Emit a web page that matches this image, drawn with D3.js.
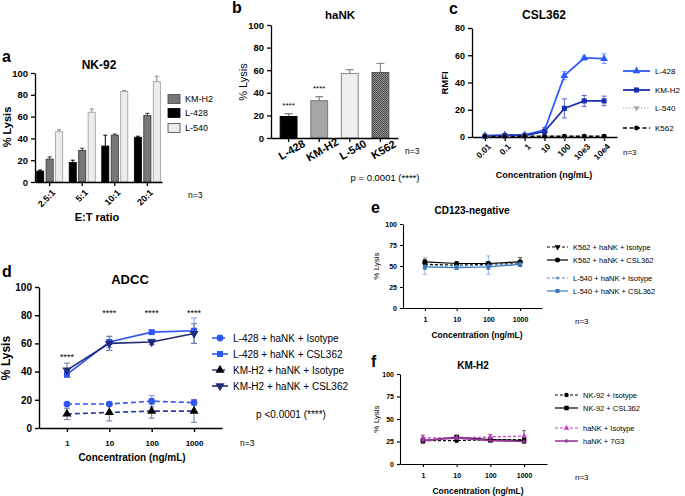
<!DOCTYPE html>
<html><head><meta charset="utf-8">
<script src="https://cdn.jsdelivr.net/npm/d3@7"></script>
<style>body{margin:0;background:#fff}svg{display:block}</style>
</head><body>
<script>
// ---------- DATA ----------
// Panel a: NK-92
const aRatios = ["2.5:1", "5:1", "10:1", "20:1"];
const aSeries = ["L-428", "KM-H2", "L-540"];
const aL428 = [10, 18, 33, 41];
const aL428Err = [1, 2, 10, 1];
const aKMH2 = [21, 29, 43, 61];
const aKMH2Err = [2, 2, 1, 2];
const aL540 = [46, 64, 83, 92];
const aL540Err = [2, 3, 1, 5];
const aLegend = ["KM-H2", "L-428", "L-540"];
const lysisTicks = [0, 20, 40, 60, 80, 100];

// Panel b: haNK
const bCells = ["L-428", "KM-H2", "L-540", "K562"];
const bLysis = [19, 33, 57, 58];
const bErr = [2.5, 3.5, 3.5, 8];
const bStars = ["****", "****", "", ""];

// Panel c: CSL362 binding
const cConc = ["0.01", "0.1", "1", "10", "100", "10e3", "10e4"];
const cL428 = [1, 1.5, 1.5, 5, 45, 58, 57.5];
const cL428Err = [0.5, 0.5, 0.5, 2, 3, 1.5, 3.5];
const cKMH2 = [0.5, 1, 1, 4, 21, 26.5, 26.5];
const cKMH2Err = [0.5, 0.5, 0.5, 1, 7, 4, 3.5];
const cL540 = [0.5, 0.5, 0.5, 0.6, 0.6, 0.6, 0.6];
const cL540Err = [0.3, 0.3, 0.3, 0.3, 0.3, 0.3, 0.3];
const cK562 = [0.4, 0.4, 0.5, 0.5, 0.6, 0.6, 0.6];
const cK562Err = [0.3, 0.3, 0.3, 0.3, 0.3, 0.3, 0.3];
const rmfiTicks = [0, 20, 40, 60, 80];
const cLabels = ["L-428", "KM-H2", "L-540", "K562"];

// Panel d: ADCC
const dConc = ["1", "10", "100", "1000"];
const dL428Iso = [17, 17, 19, 18];
const dL428IsoErr = [1, 1, 4, 2];
const dL428CSL = [38, 61, 68, 69];
const dL428CSLErr = [2, 4, 1, 9];
const dKMH2Iso = [10, 11, 12, 12];
const dKMH2IsoErr = [4, 6, 5, 8];
const dKMH2CSL = [41, 60, 61, 67];
const dKMH2CSLErr = [5, 5, 2, 7];
const dStars = ["****", "****", "****", "****"];
const dStarLevel = [52, 83, 83, 83];
const dLabels = ["L-428 + haNK + Isotype", "L-428 + haNK + CSL362", "KM-H2 + haNK + Isotype", "KM-H2 + haNK + CSL362"];

// Panel e: CD123-negative
const eConc = ["1", "10", "100", "1000"];
const eK562Iso = [52, 51, 52, 53];
const eK562IsoErr = [2, 2, 3, 3];
const eK562CSL = [55, 53, 53, 55];
const eK562CSLErr = [3, 2, 2, 5];
const eL540Iso = [50, 50, 51, 53];
const eL540IsoErr = [10, 2, 11, 2];
const eL540CSL = [49, 48, 49, 52];
const eL540CSLErr = [3, 2, 3, 2];
const eLabels = ["K562 + haNK + Isotype", "K562 + haNK + CSL362", "L-540 + haNK + Isotype", "L-540 + haNK + CSL362"];
const quarterTicks = [0, 25, 50, 75, 100];

// Panel f: KM-H2
const fConc = ["1", "10", "100", "1000"];
const fNK92Iso = [26, 26, 27, 27];
const fNK92IsoErr = [2, 2, 2, 2];
const fNK92CSL = [26, 30, 27, 26];
const fNK92CSLErr = [3, 2, 3, 3];
const fHaNKIso = [29, 29, 30, 31];
const fHaNKIsoErr = [3, 2, 3, 6];
const fHaNK7G3 = [26, 29, 26, 25];
const fHaNK7G3Err = [3, 2, 2, 2];
const fLabels = ["NK-92 + Isotype", "NK-92 + CSL362", "haNK + Isotype", "haNK + 7G3"];

// ---------- HELPERS ----------
const FONT = "'Liberation Sans', Arial, Helvetica, sans-serif";
const svg = d3.select("body").append("svg").attr("width", 685).attr("height", 496);
svg.append("rect").attr("width", 685).attr("height", 496).attr("fill", "#fff");

function txt(x, y, s, o = {}) {
  const t = svg.append("text").attr("x", x).attr("y", y).text(s)
    .attr("font-family", FONT).attr("font-size", o.size || 10)
    .attr("font-weight", o.weight || "normal")
    .attr("text-anchor", o.anchor || "start").attr("fill", o.fill || "#000");
  if (o.rotate) t.attr("transform", `rotate(${o.rotate},${x},${y})`);
  return t;
}
function styleAxis(g, size, weight, w) {
  g.select(".domain").attr("stroke", "#000").attr("stroke-width", w || 1.3);
  g.selectAll(".tick line").attr("stroke", "#000").attr("stroke-width", w || 1.3);
  g.selectAll("text").attr("font-family", FONT).attr("font-size", size)
    .attr("font-weight", weight).attr("fill", "#000");
}
function marker(g, type, x, y, size, color) {
  const sym = {circle: d3.symbolCircle, square: d3.symbolSquare, tri: d3.symbolTriangle, tridown: d3.symbolTriangle, plus: d3.symbolCross}[type];
  g.append("path").attr("d", d3.symbol().type(sym).size(size)())
    .attr("transform", `translate(${x},${y})` + (type === "tridown" ? " rotate(180)" : ""))
    .attr("fill", color);
}
// vertical error bar from yLow to yHigh with caps (cap at low end optional)
function errBar(g, x, yLow, yHigh, cap, color, w, lowCap) {
  g.append("line").attr("x1", x).attr("x2", x).attr("y1", yLow).attr("y2", yHigh)
    .attr("stroke", color).attr("stroke-width", w);
  g.append("line").attr("x1", x - cap / 2).attr("x2", x + cap / 2).attr("y1", yHigh).attr("y2", yHigh)
    .attr("stroke", color).attr("stroke-width", w);
  if (lowCap) g.append("line").attr("x1", x - cap / 2).attr("x2", x + cap / 2).attr("y1", yLow).attr("y2", yLow)
    .attr("stroke", color).attr("stroke-width", w);
}

function linePanel(o) {
  const x = d3.scalePoint().domain(o.cats).range([o.x0, o.x1]).padding(o.pad);
  const y = d3.scaleLinear().domain(o.yDomain).range([o.yBot, o.yTop]);
  const gy = svg.append("g").attr("transform", `translate(${o.x0},0)`)
    .call(d3.axisLeft(y).tickValues(o.yTicks).tickSize(o.tick).tickPadding(o.tickPad).tickSizeOuter(0));
  styleAxis(gy, o.yFont, "bold", o.axisW);
  const gx = svg.append("g").attr("transform", `translate(0,${o.yBot})`)
    .call(d3.axisBottom(x).tickSize(o.tick).tickPadding(o.xTickPad).tickSizeOuter(0));
  styleAxis(gx, o.xFont, "bold", o.axisW);
  if (o.rotX) {
    gx.selectAll(".tick text").attr("x", 0).attr("y", 0).attr("dy", "0.35em")
      .attr("text-anchor", "end").attr("transform", `translate(${o.rotDx},${o.rotDy}) rotate(-45)`);
  }
  const g = svg.append("g");
  o.series.forEach(s => {
    s.vals.forEach((v, i) => {
      const cx = x(o.cats[i]);
      errBar(g, cx, y(Math.max(0, v - s.errs[i])), y(v + s.errs[i]), o.cap, s.errColor, o.errW, true);
    });
  });
  o.series.forEach(s => {
    const line = d3.line().x((d, i) => x(o.cats[i])).y(d => y(d));
    g.append("path").attr("d", line(s.vals)).attr("fill", "none").attr("stroke", s.color)
      .attr("stroke-width", s.width || o.lineW).attr("stroke-dasharray", s.dash || null);
  });
  o.series.forEach(s => {
    s.vals.forEach((v, i) => marker(g, s.marker, x(o.cats[i]), y(v), s.size, s.markerColor || s.color));
  });
  return {x, y};
}
function lineLegend(rows, lx0, lx1, tx, size, lw) {
  const g = svg.append("g");
  rows.forEach(r => {
    g.append("line").attr("x1", lx0).attr("x2", lx1).attr("y1", r.y).attr("y2", r.y)
      .attr("stroke", r.color).attr("stroke-width", r.width || lw).attr("stroke-dasharray", r.dash || null);
    marker(g, r.marker, (lx0 + lx1) / 2, r.y, r.size, r.markerColor || r.color);
    txt(tx, r.y + size * 0.36, r.label, {size: size});
  });
}

// ---------- PANEL A ----------
(function () {
  const x = d3.scaleBand().domain(aRatios).range([35, 162]).paddingInner(0.2).paddingOuter(0.05);
  const y = d3.scaleLinear().domain([0, 100]).range([182, 73]);
  const sub = d3.scaleBand().domain(aSeries).range([0, x.bandwidth()]).paddingInner(0.25);
  const data = {"L-428": [aL428, aL428Err], "KM-H2": [aKMH2, aKMH2Err], "L-540": [aL540, aL540Err]};
  const sty = {"L-428": {fill: "#000", stroke: "#000", err: "#000"},
               "KM-H2": {fill: "#777", stroke: "#333", err: "#333"},
               "L-540": {fill: "#ececec", stroke: "#999", err: "#888"}};
  const g = svg.append("g");
  aSeries.forEach(s => {
    const [vals, errs] = data[s];
    vals.forEach((v, i) => {
      const bx = x(aRatios[i]) + sub(s);
      errBar(g, bx + sub.bandwidth() / 2, y(v), y(v + errs[i]), 4, sty[s].err, 1, false);
      g.append("rect").attr("x", bx).attr("y", y(v)).attr("width", sub.bandwidth())
        .attr("height", y(0) - y(v)).attr("fill", sty[s].fill).attr("stroke", sty[s].stroke).attr("stroke-width", 0.8);
    });
  });
  const gy = svg.append("g").attr("transform", "translate(35,0)")
    .call(d3.axisLeft(y).tickValues(lysisTicks).tickSize(4).tickPadding(3).tickSizeOuter(0));
  styleAxis(gy, 9.5, "bold");
  const gx = svg.append("g").attr("transform", "translate(0,182)")
    .call(d3.axisBottom(x).tickSize(4).tickSizeOuter(0));
  styleAxis(gx, 9, "bold");
  gx.selectAll(".tick text").attr("x", 0).attr("y", 0).attr("dy", "0.35em")
    .attr("text-anchor", "end").attr("transform", "translate(4,9) rotate(-45)");
  aLegend.forEach((s, i) => {
    const cy = [99, 113, 128][i];
    svg.append("rect").attr("x", 168).attr("y", cy - 4.5).attr("width", 12).attr("height", 9)
      .attr("fill", sty[s].fill).attr("stroke", sty[s].stroke === "#000" ? "#000" : "#444").attr("stroke-width", 0.8);
    txt(185, cy + 3.2, s, {size: 9});
  });
  txt(2, 62, "a", {size: 16, weight: "bold"});
  txt(99, 69, "NK-92", {size: 12, weight: "bold", anchor: "middle"});
  txt(11, 127, "% Lysis", {size: 11, weight: "bold", anchor: "middle", rotate: -90});
  txt(97, 221, "E:T ratio", {size: 11, weight: "bold", anchor: "middle"});
  txt(188, 198, "n=3", {size: 8.5});
})();

// ---------- PANEL B ----------
(function () {
  const defs = svg.append("defs");
  const pat = defs.append("pattern").attr("id", "hatch").attr("patternUnits", "userSpaceOnUse")
    .attr("width", 2).attr("height", 2);
  pat.append("rect").attr("width", 2).attr("height", 2).attr("fill", "#9a9a9a");
  pat.append("rect").attr("width", 1).attr("height", 1).attr("fill", "#444");
  pat.append("rect").attr("x", 1).attr("y", 1).attr("width", 1).attr("height", 1).attr("fill", "#444");

  const x = d3.scaleBand().domain(bCells).range([271, 398]).paddingInner(0.45).paddingOuter(0.3);
  const y = d3.scaleLinear().domain([0, 100]).range([138, 25]);
  const fills = ["#000", "#a5a5a5", "#efefef", "url(#hatch)"];
  const strokes = ["#000", "#777", "#888", "#555"];
  const errs = ["#777", "#777", "#888", "#888"];
  const g = svg.append("g");
  bCells.forEach((c, i) => {
    const v = bLysis[i];
    const cx = x(c) + x.bandwidth() / 2;
    errBar(g, cx, y(v), y(v + bErr[i]), 8, errs[i], 1.2, false);
    g.append("rect").attr("x", x(c)).attr("y", y(v)).attr("width", x.bandwidth()).attr("height", y(0) - y(v))
      .attr("fill", fills[i]).attr("stroke", strokes[i]).attr("stroke-width", 1);
    if (bStars[i]) txt(cx, y(v + bErr[i]) - 10 + 4.5, bStars[i], {size: 8, anchor: "middle"});
    txt(cx + 5, 153, c, {size: 11, weight: "bold", anchor: "middle", rotate: -30});
  });
  const gy = svg.append("g").attr("transform", "translate(271,0)")
    .call(d3.axisLeft(y).tickValues(lysisTicks).tickSize(4).tickPadding(3).tickSizeOuter(0));
  styleAxis(gy, 9.5, "bold");
  const gx = svg.append("g").attr("transform", "translate(0,138)")
    .call(d3.axisBottom(x).tickSize(4).tickSizeOuter(0));
  styleAxis(gx, 9, "bold");
  gx.selectAll(".tick text").remove();
  txt(232, 13, "b", {size: 16, weight: "bold"});
  txt(340, 19, "haNK", {size: 11.5, weight: "bold", anchor: "middle"});
  txt(247, 82, "% Lysis", {size: 11, anchor: "middle", rotate: -90});
  txt(405, 154, "n=3", {size: 8.5});
  txt(385, 181, "p = 0.0001 (****)", {size: 9.5, anchor: "middle"});
})();

// ---------- PANEL C ----------
(function () {
  const blue = "#2d5bff", navy = "#1b2eb0";
  const series = [
    {vals: cL428, errs: cL428Err, color: blue, errColor: "#7d95ff", marker: "tri", size: 26},
    {vals: cKMH2, errs: cKMH2Err, color: navy, errColor: "#5565c8", marker: "square", size: 26},
    {vals: cL540, errs: cL540Err, color: "#aaa", errColor: "#aaa", marker: "tridown", size: 16, dash: "1.5,1.5", width: 1.2},
    {vals: cK562, errs: cK562Err, color: "#000", errColor: "#555", marker: "circle", size: 18, dash: "4,2.5", width: 1.5}
  ];
  linePanel({cats: cConc, x0: 472, x1: 617, pad: 0.65, yDomain: [0, 80], yBot: 137, yTop: 28,
    yTicks: rmfiTicks, tick: 4, tickPad: 3, xTickPad: 3, yFont: 9, xFont: 8.5, axisW: 1.3,
    rotX: true, rotDx: 4, rotDy: 8, cap: 5, errW: 1, lineW: 1.8, series});
  lineLegend(series.map((s, i) => Object.assign({}, s, {y: [71, 90, 108, 128][i], label: cLabels[i]})),
    623, 650, 655, 8, 1.8);
  txt(449, 14, "c", {size: 16, weight: "bold"});
  txt(544, 19, "CSL362", {size: 12, weight: "bold", anchor: "middle"});
  txt(448, 83, "RMFI", {size: 9.5, weight: "bold", anchor: "middle", rotate: -90});
  txt(544, 178, "Concentration (ng/mL)", {size: 9, weight: "bold", anchor: "middle"});
  txt(623, 155, "n=3", {size: 8});
})();

// ---------- PANEL D ----------
(function () {
  const blue = "#2f55f5", navy = "#1f2a78";
  const series = [
    {vals: dL428Iso, errs: dL428IsoErr, color: blue, errColor: "#8a9cf5", marker: "circle", size: 36, dash: "5,3"},
    {vals: dL428CSL, errs: dL428CSLErr, color: blue, errColor: "#8a9cf5", marker: "square", size: 36},
    {vals: dKMH2Iso, errs: dKMH2IsoErr, color: "#2a3a9a", errColor: "#7080b0", marker: "tri", size: 36, dash: "5,3", markerColor: "#000"},
    {vals: dKMH2CSL, errs: dKMH2CSLErr, color: navy, errColor: "#7080b0", marker: "tridown", size: 36}
  ];
  const sc = linePanel({cats: dConc, x0: 39, x1: 222, pad: 0.66, yDomain: [0, 100], yBot: 428, yTop: 287,
    yTicks: lysisTicks, tick: 4, tickPad: 3, xTickPad: 8, yFont: 10, xFont: 8, axisW: 1.4,
    rotX: false, cap: 6, errW: 1.1, lineW: 1.6, series});
  dConc.forEach((c, i) => txt(sc.x(c), sc.y(dStarLevel[i]) + 5, dStars[i], {size: 9, anchor: "middle"}));
  lineLegend(series.map((s, i) => Object.assign({}, s, {y: [338, 354, 370, 386][i], label: dLabels[i]})),
    212, 228, 233, 10, 1.6);
  txt(2, 277, "d", {size: 16, weight: "bold"});
  txt(130, 284, "ADCC", {size: 13, weight: "bold", anchor: "middle"});
  txt(10, 358, "% Lysis", {size: 12, weight: "bold", anchor: "middle", rotate: -90});
  txt(132, 461, "Concentration (ng/mL)", {size: 10, weight: "bold", anchor: "middle"});
  txt(291, 418, "p <0.0001 (****)", {size: 10, anchor: "middle"});
  txt(240, 446, "n=3", {size: 8.5});
})();

// ---------- PANEL E ----------
(function () {
  const series = [
    {vals: eK562Iso, errs: eK562IsoErr, color: "#000", errColor: "#333", marker: "tridown", size: 16, dash: "3,2"},
    {vals: eK562CSL, errs: eK562CSLErr, color: "#000", errColor: "#333", marker: "circle", size: 20},
    {vals: eL540Iso, errs: eL540IsoErr, color: "#5a90d0", errColor: "#80aee0", marker: "circle", size: 8, dash: "3,2"},
    {vals: eL540CSL, errs: eL540CSLErr, color: "#3d79b8", errColor: "#3d79b8", marker: "square", size: 16}
  ];
  linePanel({cats: eConc, x0: 403, x1: 542, pad: 0.69, yDomain: [0, 100], yBot: 308, yTop: 224,
    yTicks: quarterTicks, tick: 3, tickPad: 3, xTickPad: 6, yFont: 7, xFont: 7, axisW: 1.1,
    rotX: false, cap: 4, errW: 0.9, lineW: 1.2, series});
  lineLegend(series.map((s, i) => Object.assign({}, s, {y: [247, 260, 278, 291][i], label: eLabels[i]})),
    547, 568, 573, 7.5, 1.2);
  txt(371, 213, "e", {size: 16, weight: "bold"});
  txt(472, 214, "CD123-negative", {size: 10, weight: "bold", anchor: "middle"});
  txt(379, 266, "% Lysis", {size: 8, anchor: "middle", rotate: -90});
  txt(477, 338, "Concentration (ng/mL)", {size: 8.5, weight: "bold", anchor: "middle"});
  txt(575, 324, "n=3", {size: 8});
})();

// ---------- PANEL F ----------
(function () {
  const series = [
    {vals: fNK92Iso, errs: fNK92IsoErr, color: "#000", errColor: "#444", marker: "circle", size: 16, dash: "3,2"},
    {vals: fNK92CSL, errs: fNK92CSLErr, color: "#000", errColor: "#444", marker: "square", size: 20},
    {vals: fHaNKIso, errs: fHaNKIsoErr, color: "#c13cc1", errColor: "#555", marker: "tri", size: 14, dash: "3,2"},
    {vals: fHaNK7G3, errs: fHaNK7G3Err, color: "#9a3a9a", errColor: "#555", marker: "plus", size: 10, width: 1.6}
  ];
  linePanel({cats: fConc, x0: 400, x1: 547, pad: 0.68, yDomain: [0, 100], yBot: 464, yTop: 374,
    yTicks: quarterTicks, tick: 3, tickPad: 3, xTickPad: 6, yFont: 7, xFont: 7, axisW: 1.1,
    rotX: false, cap: 4, errW: 0.9, lineW: 1.2, series});
  lineLegend(series.map((s, i) => Object.assign({}, s, {y: [395, 408, 428, 441][i], label: fLabels[i]})),
    555, 578, 583, 7.5, 1.2);
  txt(371, 367, "f", {size: 16, weight: "bold"});
  txt(473, 369, "KM-H2", {size: 10, weight: "bold", anchor: "middle"});
  txt(379, 419, "% Lysis", {size: 8, anchor: "middle", rotate: -90});
  txt(478, 494, "Concentration (ng/mL)", {size: 8.5, weight: "bold", anchor: "middle"});
  txt(575, 480, "n=3", {size: 8});
})();
</script>
</body></html>
